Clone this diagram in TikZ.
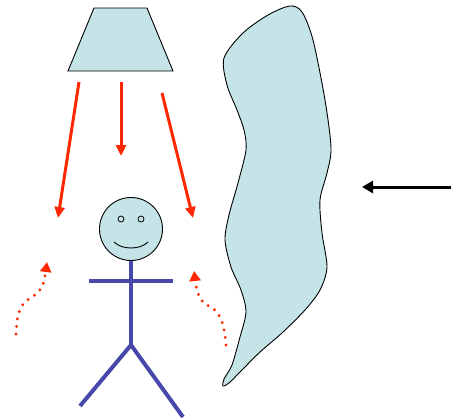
\documentclass[tikz,border=0pt]{standalone}
\usetikzlibrary{arrows.meta,shapes.geometric}
\begin{document}
\begin{tikzpicture}[x=1pt,y=-1pt,
  lampfill/.style={fill=lightcyan,draw=black,line width=0.9pt},
  ray/.style={draw=rayred,line width=3pt,-{Triangle[length=11pt,width=10pt]}},
  dotray/.style={draw=rayred,line width=3.2pt,line cap=round,dash pattern=on 0pt off 7.6pt,
                 -{Triangle[length=10pt,width=11pt]}},
  limb/.style={draw=stickblue,line width=4pt},
  wind/.style={draw=black,line width=3pt,-{Triangle[length=11pt,width=12pt]}}]
\definecolor{lightcyan}{RGB}{196,228,231}
\definecolor{rayred}{RGB}{255,40,0}
\definecolor{stickblue}{RGB}{72,72,170}
\useasboundingbox (0,0) rectangle (451,418);

% lamp shade
\draw[lampfill] (94,8) -- (147,8) -- (173,71) -- (68,71) -- cycle;

% light rays
\coordinate (l1) at (79,82);  \coordinate (t1) at (58,218);
\coordinate (l2) at (121,82); \coordinate (t2) at (121,156);
\coordinate (l3) at (162,93); \coordinate (t3) at (193,218);
\draw[ray] (l1) -- (t1);
\draw[ray] (l2) -- (t2);
\draw[ray] (l3) -- (t3);

% stick figure
\node[circle,draw=black,line width=0.9pt,fill=lightcyan,minimum size=63pt,inner sep=0pt] (head) at (131,229) {};
\draw[line width=0.8pt] (121,219) circle (3pt) (141,219) circle (3pt);
\draw[line width=0.9pt] (114,242) .. controls (122,250) and (140,250) .. (148,242);
\coordinate (hip) at (131,345);
\coordinate (lh) at (89,281); \coordinate (rh) at (173,281);
\coordinate (lf) at (80,406); \coordinate (rf) at (183,417);
\draw[limb] (head.south) -- (hip);
\draw[limb] (lh) -- (rh);
\draw[limb] (lf) -- (hip) -- (rf);

% rising warm air
\draw[dotray] plot[smooth,tension=0.6] coordinates {(16,334) (18,316) (24,303) (36,294) (43,284) (47,262)};
\draw[dotray] plot[smooth,tension=0.6] coordinates {(226,345) (223,325) (216,311) (203,302) (197,290) (194,271)};

% wall / curtain
\draw[lampfill,line join=round] plot[smooth cycle,tension=0.5] coordinates {
  (224,58) (243,33) (268,15) (290,6) (302,12) (313,40) (325,100) (331,148)
  (327,173) (320,200) (322,233) (327,267) (320,290) (305,310) (282,333)
  (260,352) (240,372) (229,383) (223,386) (224,379) (232,365) (240,337)
  (246,312) (241,290) (231,267) (225,240) (229,215) (238,183) (246,150)
  (244,130) (237,110) (227,85)};

% incoming draught
\coordinate (w0) at (451,187); \coordinate (w1) at (362,187);
\draw[wind] (w0) -- (w1);
\end{tikzpicture}
\end{document}
